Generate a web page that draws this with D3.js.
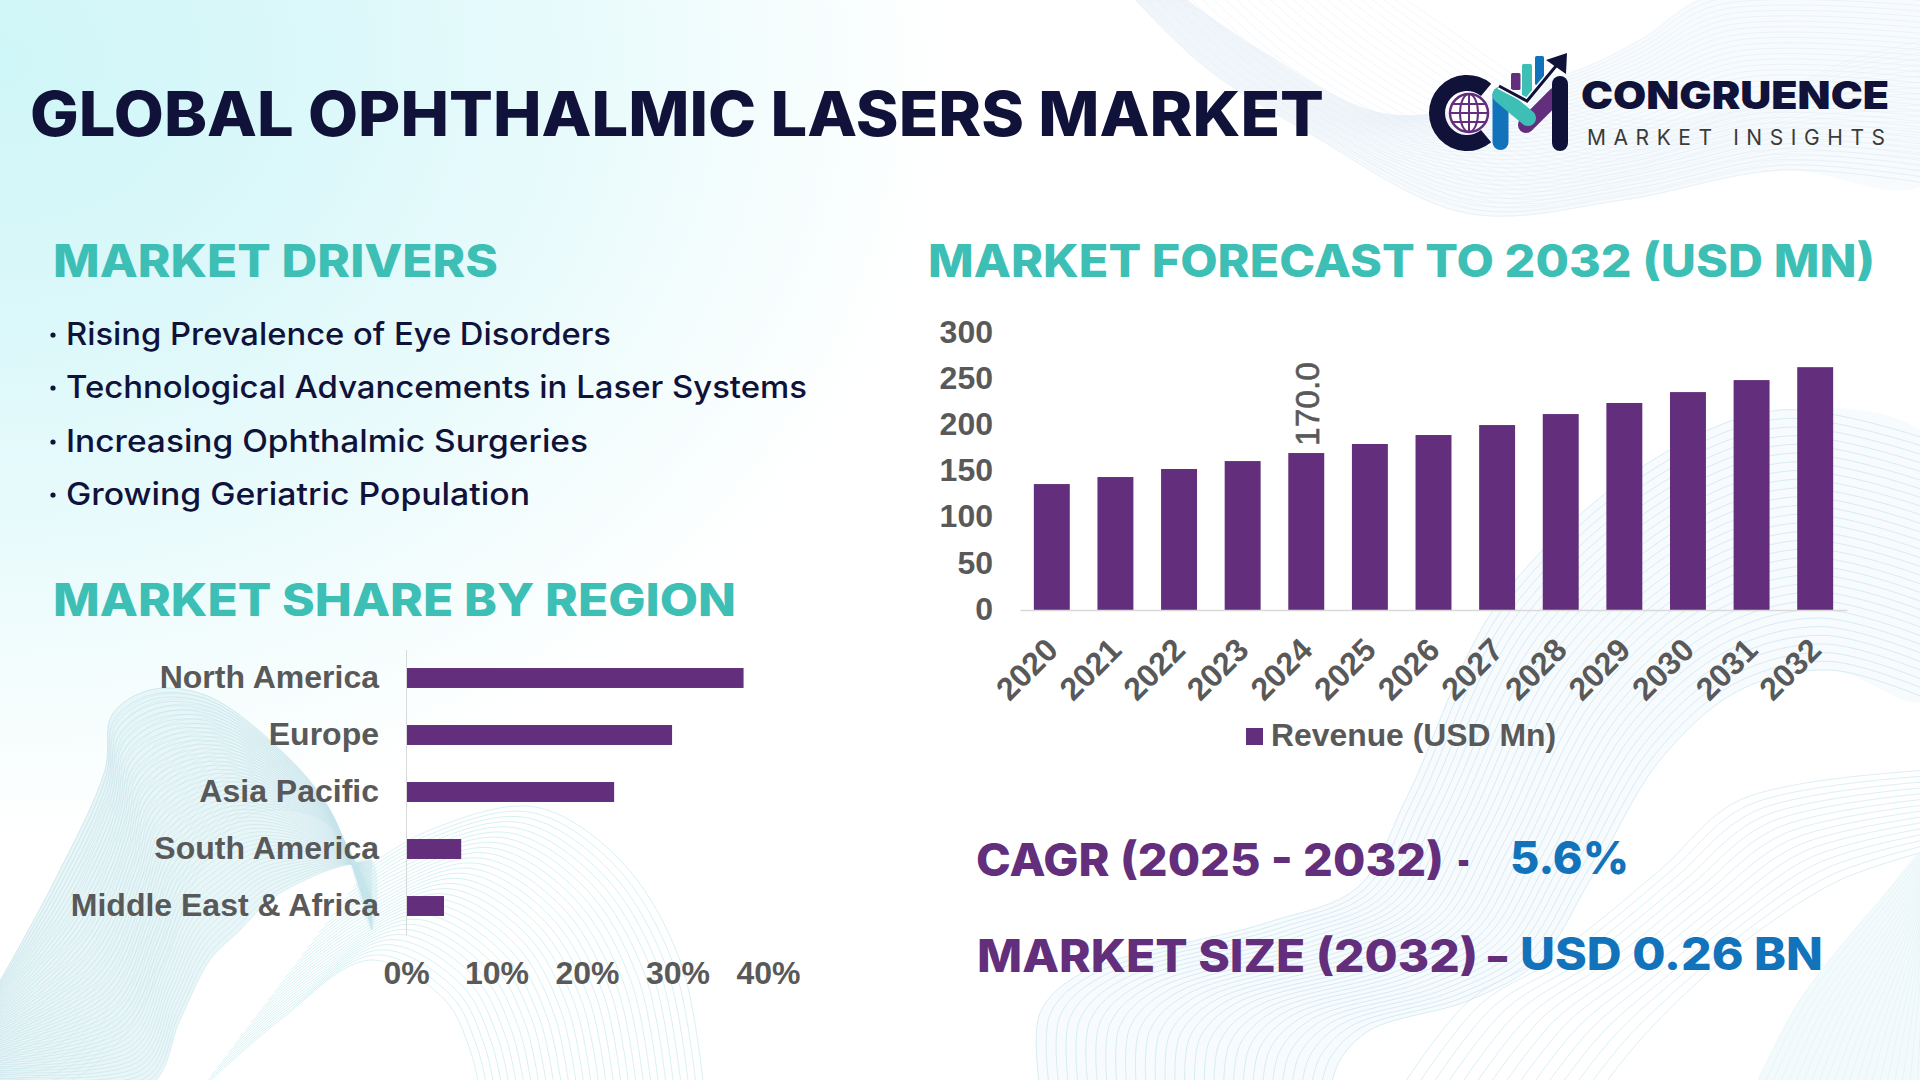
<!DOCTYPE html>
<html><head><meta charset="utf-8">
<script src="https://cdnjs.cloudflare.com/ajax/libs/d3/7.8.5/d3.min.js"></script>
<style>
html,body{margin:0;padding:0;background:#fff;overflow:hidden}
svg{display:block}
.ax text{font-family:"Liberation Sans",Arial,sans-serif;font-weight:700;fill:#595959;font-size:32px}
.hd{font-family:Inter,"Noto Sans",sans-serif}
</style></head><body><svg id="c" width="1920" height="1080" viewBox="0 0 1920 1080"></svg>
<script>
const years = [2020,2021,2022,2023,2024,2025,2026,2027,2028,2029,2030,2031,2032];
const revenue = [136.4,144,152.7,161.3,170,179.8,189.5,200.3,212.2,224.2,236,249,263];
const revenueTicks = [0,50,100,150,200,250,300];
const labelledYear = 2024;
const regions = ["North America","Europe","Asia Pacific","South America","Middle East & Africa"];
const shares = [37.3,29.4,23.0,6.1,4.2];
const shareTicks = [0,10,20,30,40];
const drivers = ["Rising Prevalence of Eye Disorders","Technological Advancements in Laser Systems","Increasing Ophthalmic Surgeries","Growing Geriatric Population"];

const PURPLE="#632e7c", TEAL="#3dbfb5", NAVY="#10123a", BLUE="#1273bb", GRAY="#595959";
const svg=d3.select("#c");
const defs=svg.append("defs");
const rg=defs.append("radialGradient").attr("id","bg").attr("gradientUnits","userSpaceOnUse")
  .attr("cx",0).attr("cy",60).attr("r",1000).attr("gradientTransform","translate(0 60) scale(0.95 0.78) translate(0 -60)");
[[0,"#cff6f8"],[.35,"#dcf8fa"],[.65,"#ebfbfc"],[1,"#ffffff"]].forEach(s=>rg.append("stop").attr("offset",s[0]).attr("stop-color",s[1]));
svg.append("rect").attr("width",1920).attr("height",1080).attr("fill","#fff");
svg.append("rect").attr("width",1920).attr("height",1080).attr("fill","url(#bg)");

// decorative wave meshes
const bgLayer=svg.append("g").attr("fill","none");
const wave=d3.line().curve(d3.curveCatmullRom.alpha(.5));
function mesh(a,b,n,color,op,fill,fillOp){
  if(fill){bgLayer.append("path").attr("d",wave(a.concat(b.slice().reverse()))+"Z").attr("fill",fill).attr("opacity",fillOp);}
  for(let i=0;i<=n;i++){const t=i/n;
    bgLayer.append("path").attr("d",wave(a.map((p,k)=>[p[0]+(b[k][0]-p[0])*t,p[1]+(b[k][1]-p[1])*t])))
      .attr("stroke",color).attr("stroke-width",1).attr("opacity",op);}
}
// top right ribbon
mesh([[1131,-5],[1205,67],[1309,133],[1466,213],[1623,200],[1780,170],[1925,183]],
     [[1180,-5],[1260,50],[1393,115],[1570,73],[1640,40],[1712,-5],[1925,-5]],34,"#dfeaf4",.5,"#f4f8fb",.6);
mesh([[1131,-5],[1205,67],[1309,133],[1466,213],[1623,200],[1780,170],[1925,183]],
     [[1400,-5],[1450,30],[1560,100],[1680,120],[1780,90],[1850,60],[1925,40]],24,"#e3edf6",.45);
// bottom left dense ribbon
const ribbonEdge=[[-5,990],[55,880],[105,770],[112,715],[150,690],[205,695],[275,745],[330,810],[372,930]];
mesh(ribbonEdge,[[-5,1085],[150,1085],[180,1020],[210,960],[240,930],[270,900],[305,880],[335,868],[372,860]],
     52,"#bfe0e8",.5,"#e2f3f6",.75);
mesh(ribbonEdge,[[-5,1085],[60,1085],[120,1040],[165,960],[195,880],[240,820],[290,810],[335,830],[372,900]],
     30,"#c5e3ea",.4);
// arch beside the left ribbon
mesh([[370,865],[430,830],[535,807],[620,860],[680,960],[704,1090]],
     [[200,1090],[280,1020],[370,960],[445,1000],[470,1050],[480,1090]],30,"#c6ebee",.7);
// bottom right ribbon
mesh([[1040,1090],[1040,1013],[1082,973],[1266,923],[1358,887],[1407,797],[1500,600],[1653,460],[1781,410],[1930,440]],
     [[1330,1090],[1340,1060],[1370,1030],[1470,1000],[1540,960],[1590,880],[1660,760],[1740,690],[1830,670],[1930,700]],30,"#d0e9f1",.85,"#f4fafc",.7);
mesh([[1756,1085],[1800,1000],[1880,900],[1925,850]],[[1925,1085],[1925,1050],[1925,980],[1925,920]],22,"#d9eff5",.5,"#eaf6f9",.55);
mesh([[1400,1090],[1470,1000],[1560,950],[1660,870],[1740,800],[1930,770]],[[1600,1090],[1640,1040],[1700,980],[1760,930],[1840,880],[1930,850]],14,"#d0e9f1",.75);

function label(x,y,s,size,fill,len,weight,adj){
  return svg.append("text").attr("class","hd").attr("x",x).attr("y",y).attr("font-size",size).attr("fill",fill)
    .attr("font-weight",weight||800).attr("textLength",len).attr("lengthAdjust",adj||"spacingAndGlyphs").text(s);
}
label(30,136,"GLOBAL OPHTHALMIC LASERS MARKET",62,NAVY,1294,800);
label(53,277,"MARKET DRIVERS",45,TEAL,445,800);
label(928,277,"MARKET FORECAST TO 2032 (USD MN)",45,TEAL,947,800);
label(53,616,"MARKET SHARE BY REGION",45,TEAL,683,800);

const driverWidths=[545,741,522,464];
const driverBase=[345,398,452,505];
drivers.forEach((d,i)=>{
  svg.append("circle").attr("cx",53).attr("cy",driverBase[i]-10).attr("r",2.6).attr("fill",NAVY);
  label(66,driverBase[i],d,31,NAVY,driverWidths[i],500);
});

// forecast bars
const x=d3.scaleBand().domain(years).range([1020,1847]).paddingInner(.435).paddingOuter(.2175);
const y=d3.scaleLinear().domain([0,300]).range([610,333]);
svg.append("g").selectAll("rect").data(years).join("rect")
  .attr("x",d=>x(d)).attr("width",x.bandwidth()).attr("y",(d,i)=>y(revenue[i])).attr("height",(d,i)=>y(0)-y(revenue[i])).attr("fill",PURPLE);
const ya=svg.append("g").attr("class","ax").attr("transform","translate(993,-1)")
  .call(d3.axisLeft(y).tickValues(revenueTicks).tickSize(0).tickPadding(0));
ya.select(".domain").remove();
const xa=svg.append("g").attr("class","ax").attr("transform","translate(0,610)")
  .call(d3.axisBottom(x).tickFormat(d3.format("d")).tickSize(0));
xa.select(".domain").attr("stroke","#d9d9d9").attr("stroke-width",1.5);
xa.selectAll("text").attr("text-anchor","end").attr("dy",0).attr("y",0)
  .attr("transform","translate(8,42) rotate(-45)");
const li=years.indexOf(labelledYear);
const lx=x(labelledYear)+x.bandwidth()/2+13, ly=y(revenue[li])-7;
svg.append("text").attr("transform",`translate(${lx},${ly}) rotate(-90)`)
  .attr("font-family","Liberation Sans").attr("font-weight",400).attr("stroke",GRAY).attr("stroke-width",.6).attr("font-size",34).attr("fill",GRAY)
  .attr("textLength",84).attr("lengthAdjust","spacingAndGlyphs").text(revenue[li].toFixed(1));
// legend
svg.append("rect").attr("x",1246).attr("y",728).attr("width",17).attr("height",17).attr("fill",PURPLE);
svg.append("text").attr("x",1271).attr("y",746).attr("font-family","Liberation Sans").attr("font-weight",700)
  .attr("font-size",32).attr("fill",GRAY).attr("textLength",285).attr("lengthAdjust","spacingAndGlyphs").text("Revenue (USD Mn)");

// region bars
const rx=d3.scaleLinear().domain([0,40]).range([406,768]);
const ry=d3.scaleBand().domain(regions).range([649.5,934.5]).paddingInner(.65).paddingOuter(.325);
svg.append("g").selectAll("rect").data(regions).join("rect")
  .attr("x",rx(0)).attr("y",d=>ry(d)).attr("height",ry.bandwidth()).attr("width",(d,i)=>rx(shares[i])-rx(0)).attr("fill",PURPLE);
const rya=svg.append("g").attr("class","ax").attr("transform","translate(406,0)")
  .call(d3.axisLeft(ry).tickSize(0).tickPadding(27));
rya.select(".domain").attr("stroke","#d9d9d9").attr("stroke-width",1);
const rxa=svg.append("g").attr("class","ax").attr("transform","translate(0,955)")
  .call(d3.axisBottom(rx).tickValues(shareTicks).tickFormat(d=>d+"%").tickSize(0).tickPadding(6));
rxa.select(".domain").remove();

// callouts
label(976,876,"CAGR (2025 - 2032)",45,PURPLE,468,800);
label(1457,876,"-",45,PURPLE,13,800);
label(1510,874,"5.6%",45,BLUE,119,800);
label(977,972,"MARKET SIZE (2032)",45,PURPLE,501,800);
label(1488,972,"–",45,PURPLE,19,800);
label(1520,970,"USD 0.26 BN",45,BLUE,303,800);

// logo
const lg=svg.append("g").attr("fill","none").attr("stroke-linecap","round");
const arc=d3.arc().innerRadius(22).outerRadius(38);
lg.append("path").attr("transform","translate(1467,113)").attr("fill",NAVY)
  .attr("d",arc({startAngle:Math.PI*.78,endAngle:Math.PI*2.22}));
lg.append("circle").attr("cx",1469).attr("cy",113).attr("r",19).attr("fill","#fff").attr("stroke",PURPLE).attr("stroke-width",2.5);
[-9,0,9].forEach(o=>{const w=Math.sqrt(361-o*o);
  lg.append("line").attr("x1",1469-w).attr("x2",1469+w).attr("y1",113+o).attr("y2",113+o).attr("stroke",PURPLE).attr("stroke-width",2);});
lg.append("ellipse").attr("cx",1469).attr("cy",113).attr("rx",9).attr("ry",19).attr("stroke",PURPLE).attr("stroke-width",2);
lg.append("line").attr("x1",1469).attr("x2",1469).attr("y1",94).attr("y2",132).attr("stroke",PURPLE).attr("stroke-width",2);
const seg=(a,b,c,d,col,w)=>lg.append("line").attr("x1",a).attr("y1",b).attr("x2",c).attr("y2",d).attr("stroke",col).attr("stroke-width",w||16);
[[1511,73,9.5,17,PURPLE],[1522,64,10,33,TEAL],[1535,56,9,29,BLUE]].forEach(r=>
  lg.append("rect").attr("x",r[0]).attr("y",r[1]).attr("width",r[2]).attr("height",r[3]).attr("rx",1.5).attr("fill",r[4]));
seg(1500.5,95,1500.5,142,BLUE);
seg(1526,125,1556,95,PURPLE);
seg(1500.5,95,1528,118,TEAL);
seg(1560,84,1560,143,NAVY);
lg.append("path").attr("d","M1499,86L1527,101L1556,66").attr("stroke","#fff").attr("stroke-width",6).attr("stroke-linecap","butt");
lg.append("path").attr("d","M1499,86L1527,101L1556,66").attr("stroke",NAVY).attr("stroke-width",3).attr("stroke-linecap","butt");
lg.append("path").attr("d","M1567,53L1566,74L1546,60Z").attr("fill",NAVY);
svg.append("text").attr("x",1581).attr("y",109).attr("font-family","Inter").attr("font-weight",900).attr("font-size",38)
  .attr("fill",NAVY).attr("textLength",308).attr("lengthAdjust","spacingAndGlyphs").text("CONGRUENCE");
svg.append("text").attr("x",1587).attr("y",145).attr("font-family","Inter").attr("font-weight",400).attr("font-size",21)
  .attr("fill","#3a3a3a").attr("textLength",298).attr("lengthAdjust","spacing").text("MARKET INSIGHTS");
</script></body></html>
